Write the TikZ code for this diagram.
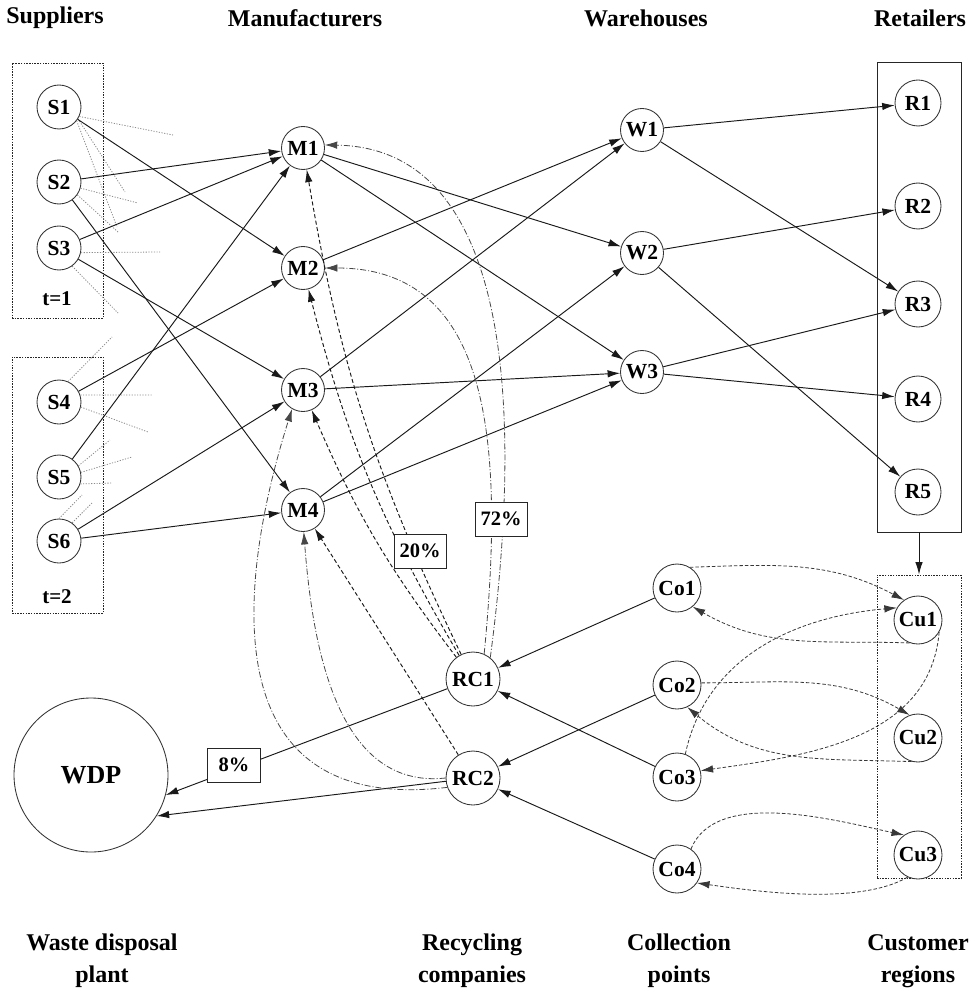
\documentclass[tikz,border=0pt]{standalone}
\usepackage{fontspec}
\setmainfont{Liberation Serif}
\usetikzlibrary{arrows.meta}
\begin{document}
\begin{tikzpicture}[x=1pt,y=1pt,
  hub/.style={circle, draw=black!80, line width=0.85pt, inner sep=0pt, fill=white,
    font=\fontsize{21.5}{24}\selectfont\bfseries},
  flow/.style={-{Latex[length=12.5pt,width=7.5pt]}, line width=0.95pt, draw=black!90},
  back/.style={flow, dash pattern=on 4pt off 2.5pt},
  recyc/.style={flow, draw=black!72, line width=0.8pt, dash pattern=on 6pt off 2pt on 1pt off 2pt},
  loop/.style={flow, draw=black!78, line width=0.8pt, dash pattern=on 3.5pt off 2pt},
  stub/.style={draw=black!45, line width=0.8pt, dash pattern=on 1.2pt off 1.5pt},
  zone/.style={draw=black!85, line width=0.9pt, dash pattern=on 1.5pt off 1.2pt, inner sep=0pt},
  share/.style={draw=black!85, line width=0.85pt, fill=white, inner sep=0pt,
    minimum width=52pt, minimum height=34pt, font=\fontsize{20.5}{24}\selectfont\bfseries},
  title/.style={font=\fontsize{24}{32}\selectfont\bfseries, align=center},
  tag/.style={font=\fontsize{21}{24}\selectfont\bfseries}
]
\useasboundingbox (0,0) rectangle (976,-992);

% column headings
\node[title] (hS) at (55,-18) {Suppliers};
\node[title] (hM) at (305,-18) {Manufacturers};
\node[title] (hW) at (646,-18) {Warehouses};
\node[title] (hR) at (920,-18) {Retailers};
\node[title] (hD) at (102,-961) {Waste disposal\\plant};
\node[title] (hC) at (472,-961) {Recycling\\companies};
\node[title] (hP) at (679,-961) {Collection\\points};
\node[title] (hU) at (918,-961) {Customer\\regions};

% period frames around the suppliers
\node[zone, minimum width=91pt, minimum height=255pt] (T1) at (57.5,-190.5) {};
\node[zone, minimum width=91pt, minimum height=256pt] (T2) at (57.5,-485) {};
\node[tag] (t1) at (57,-299) {t=1};
\node[tag] (t2) at (57,-597) {t=2};

% retailer and customer frames
\node[draw=black!85, line width=0.9pt, inner sep=0pt, minimum width=84pt, minimum height=470pt] (Rbox) at (919,-297) {};
\node[zone, minimum width=84pt, minimum height=303pt] (Cbox) at (919,-726.5) {};

% suppliers
\foreach \n/\y in {1/107,2/182,3/248,4/402,5/477,6/541}
  \node[hub, minimum size=44pt] (S\n) at (59,-\y) {S\n};
% manufacturers
\foreach \n/\y in {1/148,2/268,3/390,4/510}
  \node[hub, minimum size=43pt] (M\n) at (303,-\y) {M\n};
% warehouses
\foreach \n/\y in {1/130,2/253,3/372}
  \node[hub, minimum size=43pt] (W\n) at (642,-\y) {W\n};
% retailers
\foreach \n/\y in {1/103,2/206,3/304,4/399,5/492}
  \node[hub, minimum size=46pt] (R\n) at (918,-\y) {R\n};
% collection points
\foreach \n/\y in {1/588,2/685,3/777,4/869}
  \node[hub, minimum size=48pt] (Co\n) at (677,-\y) {Co\n};
% customer regions
\foreach \n/\y in {1/620,2/738,3/855}
  \node[hub, minimum size=48pt] (Cu\n) at (918,-\y) {Cu\n};
% recycling companies and disposal plant
\node[hub, minimum size=54pt] (RC1) at (473,-679) {RC1};
\node[hub, minimum size=54pt] (RC2) at (473,-778) {RC2};
\node[hub, minimum size=154pt, font=\fontsize{26}{30}\selectfont\bfseries] (WDP) at (91,-775) {WDP};

% unused supplier links
\foreach \n/\a/\x/\y in {S1/-25/173/135, S1/-32/125/192, S1/-38/117/227,
    S2/-16/138/203, S2/-35/118/232,
    S3/-12/160/252, S3/-54/118/313,
    S4/66/112/337, S4/18/152/395, S4/-13/148/432,
    S5/30/110/440, S5/12/132/457, S5/-18/112/483,
    S6/90/82/495, S6/54/92/503}
  \draw[stub] (\n.\a) -- (\x,-\y);

% forward flows
\foreach \a/\b in {S1/M2, S2/M1, S2/M4, S3/M1, S3/M3, S4/M2, S5/M1, S6/M3, S6/M4,
    M1/W2, M1/W3, M2/W1, M3/W1, M3/W3, M4/W2, M4/W3,
    W1/R1, W1/R3, W2/R2, W2/R5, W3/R3, W3/R4,
    Co1/RC1, Co3/RC1, Co2/RC2, Co4/RC2}
  \draw[flow] (\a) -- (\b);
\draw[flow] (Rbox.south) -- (Cbox.north);
\draw[flow] (RC1) -- (WDP.-15);
\draw[flow] (RC2) -- (WDP.-32);

% recycled material back to the manufacturers
\draw[back] (RC1) to[bend left=8] (M1);
\draw[back] (RC1) to[bend left=8] (M2);
\draw[back] (RC1) to[bend left=7] (M3);
\draw[back] (RC2) -- (M4);
\draw[recyc] (RC1.51) .. controls (522,-420) and (515,-148) .. (M1.8);
\draw[recyc] (RC1.66) .. controls (505,-440) and (490,-268) .. (M2.east);
\draw[recyc] (RC2.200) .. controls (215,-815) and (235,-590) .. (M3.240);
\draw[recyc] (RC2.west) .. controls (335,-790) and (312,-640) .. (M4.272);

% returns between collection points and customers
\draw[loop] (Co1.58) to[out=2,in=152] (Cu1.125);
\draw[loop] (Cu1.250) to[out=178,in=-30] (Co1.-50);
\draw[loop] (Co3.70) to[out=78,in=185] (Cu1.150);
\draw[loop] (Cu1.-30) to[out=-95,in=8] (Co3.15);
\draw[loop] (Co2.5) to[out=0,in=150] (Cu2.110);
\draw[loop] (Cu2.255) to[out=178,in=-40] (Co2.-65);
\draw[loop] (Co4.55) to[out=68,in=168, looseness=0.8] (Cu3.125);
\draw[loop] (Cu3.-115) to[out=-150,in=-8, looseness=0.7] (Co4.-35);

% shares of the recycled flow
\node[share] (p20) at (420,-551) {20\%};
\node[share] (p72) at (501,-519) {72\%};
\node[share, minimum width=53pt] (p8) at (234,-765) {8\%};
\end{tikzpicture}
\end{document}
